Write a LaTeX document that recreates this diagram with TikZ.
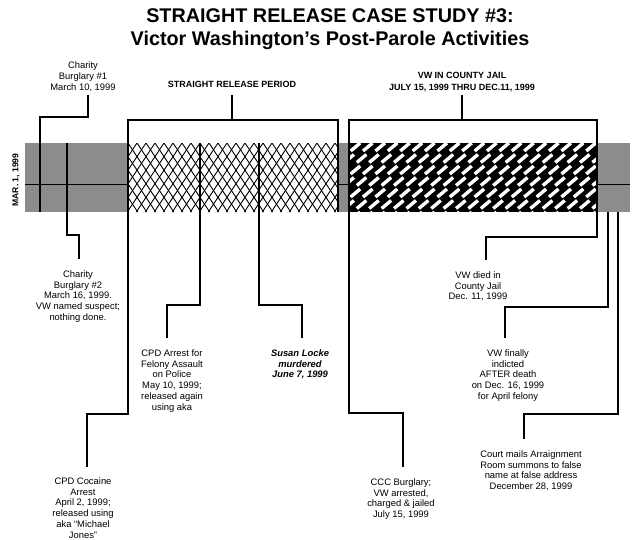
\documentclass[tikz,border=0pt]{standalone}
\usepackage{fontspec}
\setmainfont{Liberation Sans}
\usetikzlibrary{positioning}

\begin{document}
\begin{tikzpicture}[x=1pt, y=-1pt,
  lbl/.style={align=center, font=\fontsize{9.4}{10.7}\selectfont, inner sep=0pt},
  hdr/.style={align=center, font=\fontsize{9}{12}\selectfont\bfseries, inner sep=0pt},
  conn/.style={line width=1.2pt},
  brk/.style={line width=2.1pt}]
  \useasboundingbox (0,0) rectangle (638,539);

  \node[font=\fontsize{19.8}{23.5}\selectfont\bfseries, align=center, inner sep=0pt] (title) at (330,29)
    {STRAIGHT RELEASE CASE STUDY \#3:\\Victor Washington’s Post-Parole Activities};

  % time band
  \fill[black!45] (25,143) rectangle (128,212);
  \fill[black!45] (338,143) rectangle (349,212);
  \fill[black!45] (597,143) rectangle (630,212);
  \draw[line width=0.4pt] (25,184) -- (630,184);
  \node[font=\fontsize{8.6}{10}\selectfont\bfseries, rotate=90, inner sep=0pt] (mar) at (16,180) {MAR. 1, 1999};

  % chain link
  \begin{scope}
    \clip (128,143) rectangle (338,212);
    \fill[white] (128,143) rectangle (338,212);
    \foreach \i in {-6,...,24}
      \draw[line width=0.9pt] (128+9*\i,143) -- ++(45.7,69);
    \foreach \i in {0,...,30}
      \draw[line width=0.9pt] (128+9*\i,143) -- ++(-45.7,69);
  \end{scope}

  % bricks
  \begin{scope}
    \clip (349,143) rectangle (597,212);
    \fill[black] (349,143) rectangle (597,212);
    \foreach \j in {0,...,6}
      \foreach \i in {0,...,21}
        \fill[white, shift={({343+12.4*\i+6.2*mod(\j,2)},{147+11.5*\j})}, rotate=40]
          (-6.2,-1.7) rectangle (6.2,1.7);
  \end{scope}

  % headers
  \coordinate (srpE) at (232,95);
  \coordinate (jailE) at (462,95);
  \node[hdr, above=6.8pt of srpE] (srp) {STRAIGHT RELEASE PERIOD};
  \node[hdr, above=3pt of jailE] (jail) {VW IN COUNTY JAIL\\JULY 15, 1999 THRU DEC.11, 1999};
  \draw[brk] (srpE) -- (232,120);
  \draw[brk] (jailE) -- (462,120);
  \draw[brk] (128,212) |- (338,120) -- (338,212);
  \draw[brk] (349,212) |- (597,120) -- (597,212);

  % events
  \coordinate (cb1E) at (88,95);
  \coordinate (cb2E) at (79,259);
  \coordinate (cokeE) at (87,467);
  \coordinate (assaultE) at (167,338);
  \coordinate (lockeE) at (302,338);
  \coordinate (cccE) at (403,467);
  \coordinate (diedE) at (486,260);
  \coordinate (indictE) at (505,338);
  \coordinate (courtE) at (524,439);

  \node[lbl, above=3.6pt of cb1E, xshift=-5pt] (cb1) {Charity\\Burglary \#1\\March 10, 1999};
  \node[lbl, below=11.5pt of cb2E, xshift=-1pt] (cb2) {Charity\\Burglary \#2\\March 16, 1999.\\VW named suspect;\\nothing done.};
  \node[lbl, below=10.5pt of cokeE, xshift=-4pt] (coke) {CPD Cocaine\\Arrest\\April 2, 1999;\\released using\\aka “Michael\\Jones”};
  \node[lbl, below=11.5pt of assaultE, xshift=5pt] (assault) {CPD Arrest for\\Felony Assault\\on Police\\May 10, 1999;\\released again\\using aka};
  \node[lbl, font=\fontsize{9.4}{10.7}\selectfont\bfseries\itshape, below=11.5pt of lockeE, xshift=-2pt] (locke) {Susan Locke\\murdered\\June 7, 1999};
  \node[lbl, below=11.5pt of cccE, xshift=-2pt] (ccc) {CCC Burglary;\\VW arrested,\\charged \& jailed\\July 15, 1999};
  \node[lbl, below=11.5pt of diedE, xshift=-8pt] (died) {VW died in\\County Jail\\Dec. 11, 1999};
  \node[lbl, below=11.5pt of indictE, xshift=3pt] (indict) {VW finally\\indicted\\AFTER death\\on Dec. 16, 1999\\for April felony};
  \node[lbl, below=11.5pt of courtE, xshift=7pt] (court) {Court mails Arraignment\\Room summons to false\\name at false address\\December 28, 1999};

  \draw[conn] (cb1E) -- (88,117) -| (40,212);
  \draw[conn] (67,143) -- (67,235) -| (cb2E);
  \draw[conn] (128,212) -- (128,414) -| (cokeE);
  \draw[conn] (200,143) -- (200,305) -| (assaultE);
  \draw[conn] (259,143) -- (259,305) -| (lockeE);
  \draw[conn] (349,212) -- (349,413) -| (cccE);
  \draw[conn] (597,212) -- (597,237) -| (diedE);
  \draw[conn] (608,212) -- (608,307) -| (indictE);
  \draw[conn] (618,212) -- (618,414) -| (courtE);
\end{tikzpicture}
\end{document}
